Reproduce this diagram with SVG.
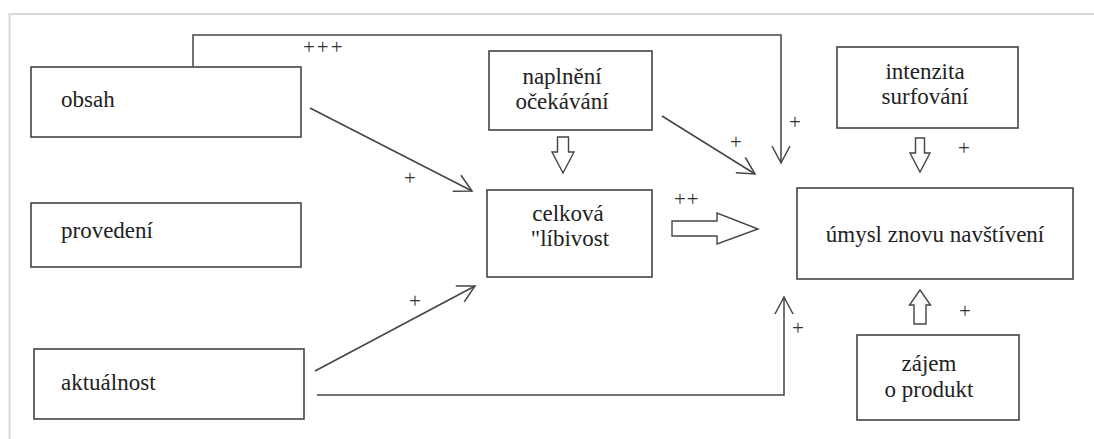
<svg xmlns="http://www.w3.org/2000/svg" width="1094" height="439" viewBox="0 0 1094 439">
<defs>
<style>
.box{fill:#fff;stroke:#444;stroke-width:1.6}
.t{font-size:23px;fill:#222}
.p{font-size:21px;fill:#333}
.ln{fill:none;stroke:#444;stroke-width:1.5}
.ha{fill:#fff;stroke:#444;stroke-width:1.4}
</style>
<marker id="v" markerWidth="22" markerHeight="22" refX="18" refY="10" orient="auto" markerUnits="userSpaceOnUse">
<path d="M1,1 L18,10 L1,19" fill="none" stroke="#444" stroke-width="1.5"/>
</marker>
</defs>
<rect width="1094" height="439" fill="#fff"/>
<path d="M9.5,439 V14 H1094" fill="none" stroke="#d8d8d8" stroke-width="2"/>
<g font-family="Liberation Serif, Times New Roman, serif">
<g id="obsah"><rect class="box" x="31" y="67" width="270" height="70"/><text class="t" x="61" y="107">obsah</text></g>
<g id="provedeni"><rect class="box" x="31" y="203" width="270" height="64"/><text class="t" x="61" y="238">provedení</text></g>
<g id="aktualnost"><rect class="box" x="34" y="349" width="270" height="70"/><text class="t" x="61" y="390">aktuálnost</text></g>
<g id="naplneni"><rect class="box" x="489" y="51" width="163" height="79"/><text class="t" text-anchor="middle" x="562" y="84">naplnění</text><text class="t" text-anchor="middle" x="562" y="109">očekávání</text></g>
<g id="celkova"><rect class="box" x="487" y="190" width="165" height="87"/><text class="t" text-anchor="middle" x="568" y="221">celková</text><text class="t" text-anchor="middle" x="570" y="246">"líbivost</text></g>
<g id="intenzita"><rect class="box" x="837" y="47" width="181" height="81"/><text class="t" text-anchor="middle" x="925" y="79">intenzita</text><text class="t" text-anchor="middle" x="925" y="104">surfování</text></g>
<g id="umysl"><rect class="box" x="797" y="188" width="276" height="91"/><text class="t" text-anchor="middle" x="935" y="242">úmysl znovu navštívení</text></g>
<g id="zajem"><rect class="box" x="857" y="335" width="162" height="85"/><text class="t" text-anchor="middle" x="929" y="371">zájem</text><text class="t" text-anchor="middle" x="929" y="397">o produkt</text></g>

<g id="connectors">
<path class="ln" d="M193,67 V35 H781 V163" marker-end="url(#v)"/>
<line class="ln" x1="310" y1="108" x2="472" y2="191" marker-end="url(#v)"/>
<line class="ln" x1="662" y1="116" x2="755" y2="174" marker-end="url(#v)"/>
<line class="ln" x1="315" y1="371" x2="475" y2="286" marker-end="url(#v)"/>
<path class="ln" d="M317,395 H784 V297" marker-end="url(#v)"/>
<path class="ha" d="M557.5,137 H568.5 V152 H574 L563,173 L552,152 H557.5 Z"/>
<path class="ha" d="M915.5,138 H924.5 V153 H930 L920,172 L910,153 H915.5 Z"/>
<path class="ha" d="M914,324 H926 V305 H930.5 L920,290 L909.5,305 H914 Z"/>
<path class="ha" d="M672,221 H717 V213 L758,229 L717,244 V236 H672 Z"/>
<text class="p" x="303" y="54" letter-spacing="2">+++</text>
<text class="p" x="404" y="185">+</text>
<text class="p" x="409" y="308">+</text>
<text class="p" x="730" y="149">+</text>
<text class="p" x="789" y="129">+</text>
<text class="p" x="674" y="206" letter-spacing="1">++</text>
<text class="p" x="958" y="155">+</text>
<text class="p" x="959" y="318">+</text>
<text class="p" x="792" y="335">+</text>
</g>
</g>
</svg>
